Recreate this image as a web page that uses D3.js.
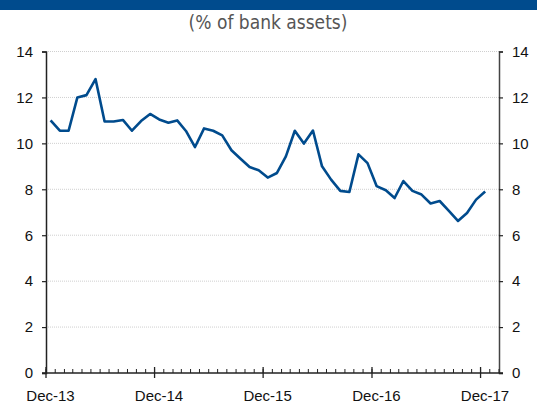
<!DOCTYPE html>
<html>
<head>
<meta charset="utf-8">
<script src="https://cdn.jsdelivr.net/npm/d3@7"></script>
<style>
  body { margin: 0; background: #fff; }
  svg { display: block; }
</style>
</head>
<body>
<svg id="chart" width="537" height="403"></svg>
<script>
// monthly values, Dec-13 .. Dec-17
var startMonth = "2013-12";
var shareValues = [
    11.0, 10.55, 10.55, 12.0, 12.1, 12.8, 10.95, 10.95, 11.02, 10.55, 10.97, 11.28,
    11.04, 10.9, 11.0, 10.54, 9.84, 10.65, 10.55, 10.35, 9.7, 9.33, 8.97, 8.83,
    8.51, 8.71, 9.43, 10.55, 9.99, 10.56, 9.0, 8.42, 7.93, 7.88, 9.52, 9.14,
    8.14, 7.96, 7.62, 8.36, 7.93, 7.77, 7.38, 7.49, 7.06, 6.62, 6.97, 7.55, 7.9
];
var yTicks = [0, 2, 4, 6, 8, 10, 12, 14];
var yearLabels = ["Dec-13", "Dec-14", "Dec-15", "Dec-16", "Dec-17"];
var titleText = "(% of bank assets)";

var margin = { top: 51.5, right: 38, bottom: 30, left: 46 },
    width = 537 - margin.left - margin.right,
    height = 403 - margin.top - margin.bottom;

var svg = d3.select("#chart");

// blue band on top
svg.append("rect")
    .attr("x", 0).attr("y", 0)
    .attr("width", 537).attr("height", 10)
    .attr("fill", "#004b8d");

svg.append("text")
    .attr("x", 268)
    .attr("y", 29)
    .attr("text-anchor", "middle")
    .style("font-family", "'Liberation Sans Narrow', 'DejaVu Sans Condensed', sans-serif")
    .style("font-size", "19px")
    .style("fill", "#555")
    .text(titleText);

var g = svg.append("g")
    .attr("transform", "translate(" + margin.left + "," + margin.top + ")");

var t0 = d3.utcParse("%Y-%m")(startMonth);
var t1 = d3.utcMonth.offset(t0, 50);
var x = d3.scaleUtc().domain([t0, t1]).range([0, width]);
var y = d3.scaleLinear().domain([0, 14]).range([height, 0]);

var data = shareValues.map(function(v, i) {
    var m = d3.utcMonth.offset(t0, i);
    return { date: new Date((+m + +d3.utcMonth.offset(m, 1)) / 2), value: v };
});

// dotted gridlines
g.selectAll(".grid")
    .data(yTicks.filter(d => d > 0))
    .enter().append("line")
    .attr("class", "grid")
    .attr("x1", 0).attr("x2", width)
    .attr("y1", d => y(d)).attr("y2", d => y(d))
    .attr("stroke", "#cfcfcf")
    .attr("stroke-width", 1)
    .attr("stroke-dasharray", "1,1");

var fontAxis = "'Liberation Sans', Arial, sans-serif";

var yLeft = g.append("g")
    .call(d3.axisLeft(y).tickValues(yTicks).tickSize(4).tickPadding(9));
var yRight = g.append("g")
    .attr("transform", "translate(" + width + ",0)")
    .call(d3.axisRight(y).tickValues(yTicks).tickSize(4).tickPadding(9));

[yLeft, yRight].forEach(function(ax) {
    ax.select(".domain").attr("stroke", "#222").attr("stroke-width", 1.5);
    ax.selectAll(".tick line").attr("stroke", "#222").attr("stroke-width", 1.2);
    ax.selectAll("text")
        .style("font-family", fontAxis)
        .style("font-size", "15px")
        .attr("fill", "#111");
});
yRight.select(".domain").attr("stroke", "#444");

// x axis: monthly minor ticks inward, yearly ticks crossing
var xAxis = g.append("g").attr("transform", "translate(0," + height + ")");
xAxis.append("line")
    .attr("x1", -4).attr("x2", width + 4)
    .attr("stroke", "#222").attr("stroke-width", 1.5);

var monthTicks = d3.utcMonth.range(t0, d3.utcMonth.offset(t1, 1));
xAxis.selectAll(".minor")
    .data(monthTicks)
    .enter().append("line")
    .attr("x1", d => x(d)).attr("x2", d => x(d))
    .attr("y1", 0).attr("y2", -4)
    .attr("stroke", "#222").attr("stroke-width", 1);

var yearTicks = yearLabels.map((s, i) => d3.utcMonth.offset(t0, 12 * i));
xAxis.selectAll(".major")
    .data(yearTicks)
    .enter().append("line")
    .attr("x1", d => x(d)).attr("x2", d => x(d))
    .attr("y1", 5).attr("y2", -6)
    .attr("stroke", "#222").attr("stroke-width", 1.3);

xAxis.selectAll(".xlabel")
    .data(yearTicks)
    .enter().append("text")
    .attr("x", d => x(d) + x(d3.utcDay.offset(t0, 15)) - x(t0))
    .attr("y", 28)
    .attr("text-anchor", "middle")
    .style("font-family", fontAxis)
    .style("font-size", "15px")
    .attr("fill", "#111")
    .text((d, i) => yearLabels[i]);

var line = d3.line()
    .x(d => x(d.date))
    .y(d => y(d.value));

g.append("path")
    .datum(data)
    .attr("fill", "none")
    .attr("stroke", "#004b8d")
    .attr("stroke-width", 2.6)
    .attr("stroke-linejoin", "round")
    .attr("d", line);
</script>
</body>
</html>
